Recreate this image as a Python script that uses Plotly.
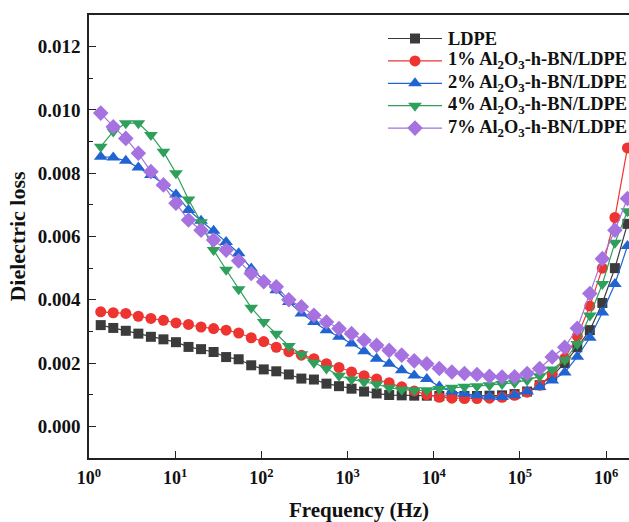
import plotly.graph_objects as go

# Measurement frequencies (Hz)
freq = [1.368, 1.912, 2.673, 3.737, 5.224, 7.303, 10.21, 14.27, 19.95, 27.89,
        38.99, 54.51, 76.21, 106.5, 148.9, 208.2, 291.1, 406.9, 568.9, 795.3,
        1112, 1554, 2173, 3038, 4246, 5936, 8299, 11600, 16220, 22680,
        31700, 44320, 61940, 86600, 121100, 169300, 236600, 330800, 462400, 646400,
        903600, 1263000, 1766000]

ldpe = [0.00320, 0.00311, 0.00302, 0.00293, 0.00283, 0.00275, 0.00266, 0.00251, 0.00244, 0.00235,
        0.00219, 0.00212, 0.00193, 0.00180, 0.00174, 0.00164, 0.00151, 0.00148, 0.00135, 0.00127,
        0.00119, 0.00110, 0.00104, 0.00099, 0.00098, 0.00097, 0.00097, 0.00096, 0.00096, 0.00096,
        0.00096, 0.00097, 0.00098, 0.00102, 0.00110, 0.00130, 0.00160, 0.00200, 0.00250, 0.00304,
        0.00390, 0.00500, 0.00640]

al1 = [0.00362, 0.00359, 0.00357, 0.00348, 0.00341, 0.00335, 0.00327, 0.00322, 0.00314, 0.00309,
       0.00304, 0.00295, 0.00280, 0.00268, 0.00250, 0.00236, 0.00225, 0.00214, 0.00198, 0.00186,
       0.00172, 0.00160, 0.00150, 0.00138, 0.00125, 0.00112, 0.00100, 0.00092, 0.00089, 0.00088,
       0.00088, 0.00089, 0.00092, 0.00098, 0.00108, 0.00130, 0.00165, 0.00215, 0.00285, 0.00380,
       0.00500, 0.00660, 0.00880]

al2 = [0.00852, 0.00850, 0.00839, 0.00818, 0.00794, 0.00766, 0.00733, 0.00684, 0.00650, 0.00618,
       0.00583, 0.00547, 0.00499, 0.00462, 0.00430, 0.00393, 0.00357, 0.00330, 0.00304, 0.00283,
       0.00262, 0.00237, 0.00214, 0.00198, 0.00177, 0.00161, 0.00150, 0.00126, 0.00110, 0.00103,
       0.00098, 0.00094, 0.00093, 0.00098, 0.00110, 0.00124, 0.00145, 0.00170, 0.00220, 0.00280,
       0.00360, 0.00450, 0.00570]

al4 = [0.00884, 0.00932, 0.00958, 0.00958, 0.00921, 0.00868, 0.00800, 0.00717, 0.00645, 0.00557,
       0.00495, 0.00433, 0.00375, 0.00330, 0.00293, 0.00254, 0.00228, 0.00201, 0.00183, 0.00160,
       0.00148, 0.00140, 0.00133, 0.00122, 0.00116, 0.00114, 0.00114, 0.00118, 0.00122, 0.00125,
       0.00127, 0.00130, 0.00134, 0.00138, 0.00146, 0.00158, 0.00180, 0.00210, 0.00260, 0.00350,
       0.00450, 0.00580, 0.00680]

al7 = [0.00990, 0.00947, 0.00910, 0.00863, 0.00805, 0.00763, 0.00705, 0.00652, 0.00620, 0.00589,
       0.00557, 0.00523, 0.00483, 0.00457, 0.00441, 0.00400, 0.00378, 0.00351, 0.00330, 0.00309,
       0.00293, 0.00272, 0.00256, 0.00240, 0.00225, 0.00207, 0.00198, 0.00183, 0.00172, 0.00167,
       0.00164, 0.00158, 0.00156, 0.00157, 0.00167, 0.00183, 0.00219, 0.00250, 0.00310, 0.00420,
       0.00530, 0.00620, 0.00720]

names = ["LDPE",
         "1% Al<sub>2</sub>O<sub>3</sub>-h-BN/LDPE",
         "2% Al<sub>2</sub>O<sub>3</sub>-h-BN/LDPE",
         "4% Al<sub>2</sub>O<sub>3</sub>-h-BN/LDPE",
         "7% Al<sub>2</sub>O<sub>3</sub>-h-BN/LDPE"]
series = [ldpe, al1, al2, al4, al7]
colors = ["#3b3b3b", "#ee3431", "#1f64d0", "#2f9f5c", "#a672e0"]
symbols = ["square", "circle", "triangle-up", "triangle-down", "diamond"]
sizes = [10, 11, 12, 12, 12]

x_ticks = [1, 10, 100, 1e3, 1e4, 1e5, 1e6]
x_ticktext = ["10<sup>0</sup>", "10<sup>1</sup>", "10<sup>2</sup>", "10<sup>3</sup>",
              "10<sup>4</sup>", "10<sup>5</sup>", "10<sup>6</sup>"]

SERIF = "Liberation Serif"
INK = "#111111"
AXIS = "#222222"

# Canvas geometry (pixels)
W, H = 629, 522
ML, MT, MB = 89, 15, 64

fig = go.Figure()
for name, ys, c, sym, sz in zip(names, series, colors, symbols, sizes):
    fig.add_trace(go.Scatter(
        x=freq, y=ys, name=name, mode="lines+markers", showlegend=False,
        line=dict(color=c, width=1.2),
        marker=dict(symbol=sym, size=sz, color=c, line=dict(width=0)),
    ))

# Legend drawn on a pixel-based overlay axis pair
leg_x0, leg_x1, leg_mark, leg_text = 388, 442, 415, 446
leg_top, leg_step = 38.5, 22.4
for i, (name, c, sym, sz) in enumerate(zip(names, colors, symbols, sizes)):
    yrow = leg_top + leg_step * i
    fig.add_trace(go.Scatter(
        x=[leg_x0, leg_x1], y=[yrow, yrow], mode="lines", showlegend=False,
        line=dict(color=c, width=1.2), xaxis="x2", yaxis="y2", hoverinfo="skip",
        cliponaxis=False,
    ))
    fig.add_trace(go.Scatter(
        x=[leg_mark], y=[yrow], mode="markers", showlegend=False,
        marker=dict(symbol=sym, size=sz, color=c, line=dict(width=0)),
        xaxis="x2", yaxis="y2", hoverinfo="skip", cliponaxis=False,
    ))
    fig.add_annotation(
        x=leg_text, y=yrow, xref="x2", yref="y2", text=name, showarrow=False,
        xanchor="left", yanchor="middle",
        font=dict(family=SERIF, size=18.4, weight="bold", color=INK),
    )

fig.update_layout(
    width=W, height=H,
    margin=dict(l=ML, r=0, t=MT, b=MB, autoexpand=False),
    paper_bgcolor="white", plot_bgcolor="white",
    font=dict(family=SERIF, color=INK),
    showlegend=False,
    xaxis=dict(
        type="log", range=[0, 6.265],
        tickvals=x_ticks, ticktext=x_ticktext,
        ticks="inside", ticklen=7, tickwidth=1.3, tickcolor=AXIS,
        showline=True, linecolor=AXIS, linewidth=1.6, mirror=True,
        showgrid=False, zeroline=False, ticklabelstandoff=3,
        tickfont=dict(family=SERIF, size=18, weight="bold", color=INK),
        title=dict(text="Frequency (Hz)", standoff=16,
                   font=dict(family=SERIF, size=21, weight="bold", color=INK)),
    ),
    yaxis=dict(
        range=[-0.001, 0.013], dtick=0.002, tick0=0, tickformat=".3f",
        ticks="inside", ticklen=7, tickwidth=1.3, tickcolor=AXIS,
        minor=dict(dtick=0.001, ticks="inside", ticklen=4, tickwidth=1.2, tickcolor=AXIS),
        showline=True, linecolor=AXIS, linewidth=1.6, mirror=False,
        showgrid=False, zeroline=False, ticklabelstandoff=3,
        tickfont=dict(family=SERIF, size=19, weight="bold", color=INK),
        title=dict(text="Dielectric loss", standoff=6,
                   font=dict(family=SERIF, size=22, weight="bold", color=INK)),
    ),
    xaxis2=dict(overlaying="x", range=[ML, W], visible=False, fixedrange=True),
    yaxis2=dict(overlaying="y", range=[H - MB, MT], visible=False, fixedrange=True),
)

fig.write_html("out.html")
